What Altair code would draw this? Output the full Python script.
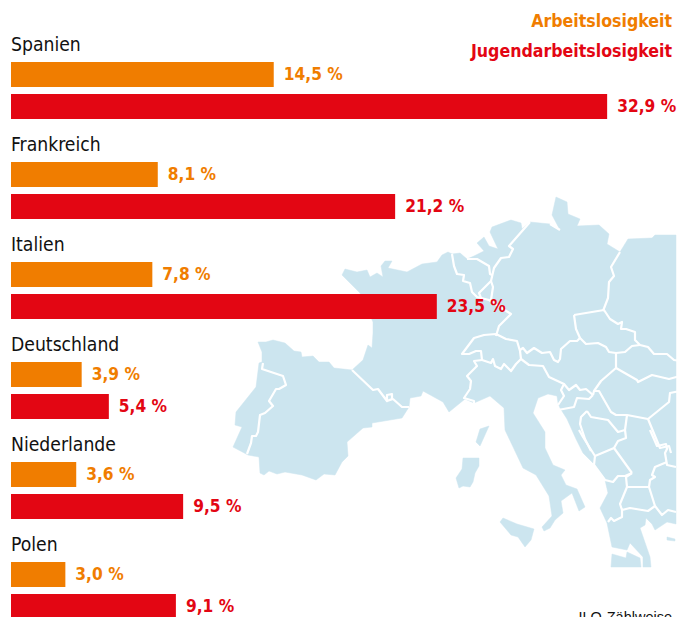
import altair as alt
import pandas as pd

countries = ["Spanien", "Frankreich", "Italien", "Deutschland", "Niederlande", "Polen"]
arbeitslos = [14.5, 8.1, 7.8, 3.9, 3.6, 3.0]
jugend = [32.9, 21.2, 23.5, 5.4, 9.5, 9.1]
series = ["Arbeitslosigkeit", "Jugendarbeitslosigkeit"]
colors = ["#f07d00", "#e30613"]
MAP_BLUE = "#cce5ef"
FONT = "DejaVu Sans Condensed, Roboto"

# Map backdrop: outlines
land_main = [(258,342),(266,342),(273,340),(285,343),(294,351),(301,352),(302,357),(313,356),(319,362),(329,362),(334,368),(352,370),(363,360),(368,345),(372,348),(373,333),(373,322),(360,293),(342,275),(345,269),(357,272),(367,270),(370,277),(377,273),(383,277),(381,266),(385,261),(392,261),(388,268),(407,272),(422,264),(437,262),(442,255),(448,252),(452,254),(460,253),(467,259),(474,256),(484,251),(477,243),(484,237),(489,246),(498,249),(490,232),(492,227),(511,220),(521,223),(522,229),(530,222),(550,224),(560,230),(552,215),(556,197),(567,202),(568,214),(580,219),(577,226),(599,225),(609,234),(607,244),(620,252),(628,239),(652,238),(655,235),(676,235),(676,524),(667,522),(655,530),(652,524),(646,518),(645,525),(640,528),(650,557),(651,567),(643,567),(643,557),(630,543),(627,550),(612,547),(607,523),(600,508),(608,493),(605,480),(595,465),(583,453),(581,449),(576,439),(567,419),(560,408),(558,403),(557,396),(548,394),(538,398),(533,413),(545,432),(545,448),(553,465),(565,470),(561,475),(566,485),(577,489),(585,507),(579,511),(572,493),(561,501),(563,513),(555,520),(550,528),(544,531),(542,527),(552,516),(549,496),(536,475),(523,468),(505,430),(504,408),(490,396),(474,403),(465,399),(449,412),(443,402),(423,391),(421,396),(410,398),(409,407),(402,418),(372,423),(372,427),(363,428),(347,442),(348,456),(342,462),(335,475),(324,474),(316,480),(302,475),(285,472),(277,474),(269,471),(264,475),(260,473),(259,457),(248,455),(233,447),(242,427),(235,425),(236,412),(256,387),(259,363),(262,362),(262,352)]
land_pelop = [(612,554),(626,558),(627,552),(640,558),(641,567),(611,567)]
land_sardinia = [(463,458),(479,458),(479,466),(475,473),(473,482),(470,487),(463,486),(459,488),(456,478),(462,469)]
land_corsica = [(480,429),(489,426),(480,446),(476,442)]
land_sicily = [(503,518),(517,524),(534,529),(531,540),(525,547),(518,537),(511,535),(500,522)]
land_islet = [(667,537),(675,539),(675,541),(667,540)]

borders = [
    [(263,363),(262,369),(283,376),(286,385),(279,389),(276,389),(269,401),(273,406),(265,413),(260,415),(258,432),(256,436),(252,436),(251,443),(247,454)],
    [(352,370),(373,390),(378,389),(387,401),(387,395),(392,394),(392,399),(387,401),(393,399),(402,407),(409,407)],
    [(452,254),(454,266),(457,274),(464,275),(463,281),(470,283),(472,292),(477,297),(489,300),(511,314),(499,326),(496,336)],
    [(467,259),(477,259),(489,266),(490,274),(492,275)],
    [(530,222),(509,246),(513,249),(509,257),(501,258),(494,268),(491,281),(479,293),(481,298)],
    [(491,281),(493,287),(491,300)],
    [(550,224),(560,230)],
    [(620,252),(611,267),(614,276),(609,282),(608,298),(603,311)],
    [(574,315),(604,310),(610,319),(618,324),(622,322),(621,329),(626,329),(635,332),(635,340),(640,345),(648,347),(654,354),(667,354),(674,360),(680,361)],
    [(574,315),(576,329),(580,338),(586,344),(598,343),(606,347),(609,352),(616,353),(625,352),(632,346),(640,345)],
    [(580,338),(577,341),(570,341),(561,349),(560,359),(558,362),(554,360),(550,352),(542,353),(534,348),(527,353),(523,348),(520,350)],
    [(496,334),(506,339),(517,341),(520,351),(521,359),(516,364),(511,371),(504,364),(501,369),(495,366),(493,359),(491,363),(482,360),(481,351),(476,351),(469,354),(462,354),(474,338),(484,335),(496,334)],
    [(482,360),(474,361),(477,366),(467,376),(471,381),(470,389),(464,398),(474,401),(474,404)],
    [(521,359),(529,365),(543,366),(549,377),(564,384),(561,390),(564,396),(558,405)],
    [(564,384),(569,390),(576,385),(580,390),(586,389),(593,395)],
    [(616,353),(616,368),(601,381),(594,391),(593,395)],
    [(616,368),(637,380),(638,382),(652,375),(669,379),(680,376)],
    [(558,410),(574,407),(577,398),(589,399),(593,395)],
    [(594,391),(599,391),(611,412),(616,415),(627,415),(648,419)],
    [(648,419),(669,402),(670,393),(680,391)],
    [(648,419),(660,448),(669,446),(671,453)],
    [(587,411),(581,417),(580,424),(585,439),(591,451)],
    [(587,411),(591,417),(608,420),(618,432),(625,430),(627,415)],
    [(625,430),(626,438),(618,441),(614,448)],
    [(579,430),(583,437),(595,456),(614,448),(632,473)],
    [(595,456),(594,465),(605,480),(613,482),(618,476),(625,476),(632,473)],
    [(650,430),(657,446),(666,444),(667,449),(665,453),(667,465),(676,467)],
    [(667,462),(655,467),(652,475),(655,477),(650,480),(649,487),(627,487),(626,477),(632,473)],
    [(627,487),(620,504),(622,510),(630,508),(648,511),(655,506),(649,487)],
    [(655,506),(662,515),(668,510),(676,512)],
    [(622,510),(622,517),(614,521),(611,518),(608,522)],
]

def poly(pts):
    ring = [list(p) for p in pts] + [list(pts[0])]
    return {"type": "Feature", "properties": {}, "geometry": {"type": "Polygon", "coordinates": [ring]}}

def line(pts):
    return {"type": "Feature", "properties": {}, "geometry": {"type": "LineString", "coordinates": [list(p) for p in pts]}}

land = [poly(p) for p in [land_main, land_pelop, land_sardinia, land_corsica, land_sicily, land_islet]]
lines = [line(b) for b in borders]

proj = dict(type="identity", scale=1, translate=[-8, -8])
map_fill = alt.Chart(alt.Data(values=land)).mark_geoshape(fill=MAP_BLUE, stroke=MAP_BLUE, strokeWidth=0.5).project(**proj)
map_lines = alt.Chart(alt.Data(values=lines)).mark_geoshape(filled=False, stroke="white", strokeWidth=2.2, strokeJoin="round").project(**proj)

rows = []
for c, a, j in zip(countries, arbeitslos, jugend):
    for s, v in zip(series, (a, j)):
        rows.append({"land": c, "reihe": s, "wert": v, "label": f"{v:.1f}".replace(".", ",") + " %"})
df = pd.DataFrame(rows)
names = pd.DataFrame({"land": countries})

x = alt.X("wert:Q", axis=None, scale=alt.Scale(domain=[0, 35], range=[3, 637.2]))
y = alt.Y("land:N", axis=None, sort=countries, scale=alt.Scale(domain=countries, range=[22, 622], padding=0))
yo = alt.YOffset("reihe:N", sort=series, scale=alt.Scale(domain=series, paddingInner=0.21875, paddingOuter=0.672, align=0.744))
col = alt.Color("reihe:N", legend=None, scale=alt.Scale(domain=series, range=colors))

bars = alt.Chart(df).mark_bar(cornerRadius=0).encode(x=x, y=y, yOffset=yo, color=col)
vals = alt.Chart(df).mark_text(align="left", baseline="middle", dx=10, dy=1, font=FONT, fontWeight="bold", fontSize=17.2).encode(
    x=x, y=y, yOffset=yo, text="label:N", color=col)
heads = alt.Chart(names).mark_text(align="left", baseline="middle", dy=-35, font=FONT, fontSize=19.2, color="#111111").encode(
    x=alt.value(3), y=y, text="land:N")

leg1 = alt.Chart(pd.DataFrame({"t": [series[0]]})).mark_text(align="right", baseline="middle", font=FONT, fontWeight="bold", fontSize=17.6, color=colors[0]).encode(
    x=alt.value(664), y=alt.value(13.5), text="t:N")
leg2 = alt.Chart(pd.DataFrame({"t": [series[1]]})).mark_text(align="right", baseline="middle", font=FONT, fontWeight="bold", fontSize=17.6, color=colors[1]).encode(
    x=alt.value(664), y=alt.value(43.5), text="t:N")
note = alt.Chart(pd.DataFrame({"t": ["ILO-Zählweise"]})).mark_text(align="right", baseline="alphabetic", font="Liberation Sans", fontSize=14.5, color="#111111").encode(
    x=alt.value(664), y=alt.value(614), text="t:N")

chart = alt.layer(map_fill, map_lines, bars, vals, heads, leg1, leg2, note).properties(
    width=674, height=612, padding=0, autosize="none",
    background="white",
).configure_view(stroke=None)

chart.save("out.html", embed_options={"renderer": "svg", "actions": False})
